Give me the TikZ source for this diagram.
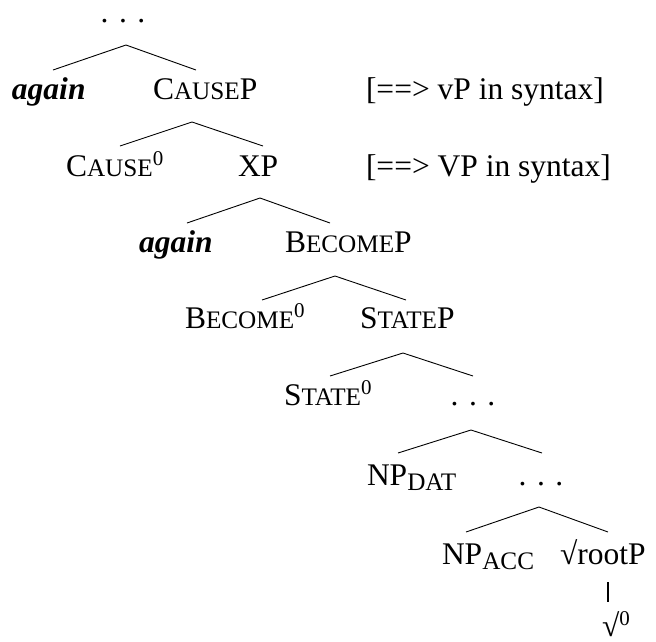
\documentclass[tikz,border=0pt]{standalone}
\usepackage{fontspec}
\setmainfont{Liberation Serif}
\newcommand\smc[1]{{\fontsize{25.2}{28}\selectfont #1}}
\newcommand\supz[1]{\raisebox{10.5pt}{\fontsize{21}{22}\selectfont #1}}
\newcommand\subz[1]{\raisebox{-5pt}{\fontsize{16.8}{18}\selectfont #1}}
\begin{document}
\begin{tikzpicture}[x=1pt,y=-1pt,
  lab/.style={inner sep=0pt,outer sep=0pt,anchor=base west,font=\fontsize{31.5}{36}\selectfont},
  labc/.style={lab,anchor=base},
  branch/.style={line width=0.9pt,line join=miter}]
\useasboundingbox (0,0) rectangle (656,641);
% nodes
\node[labc,text height=6pt,text depth=0pt] (top) at (123,22) {. . .};
\node[lab] (again1) at (12,99) {\textbf{\textit{again}}};
\node[lab] (causeP) at (153,99) {C\smc{AUSE}P};
\node[lab] (br1) at (366,99) {[==> vP in syntax]};
\node[lab] (cause0) at (66,176) {C\smc{AUSE}\supz{0}};
\node[lab] (XP) at (238,176) {XP};
\node[lab] (br2) at (366,176) {[==> VP in syntax]};
\node[lab] (again2) at (139,252) {\textbf{\textit{again}}};
\node[lab] (becomeP) at (285,252) {B\smc{ECOME}P};
\node[lab] (become0) at (185,328) {B\smc{ECOME}\supz{0}};
\node[lab] (stateP) at (360,328) {S\smc{TATE}P};
\node[lab] (state0) at (284,405) {S\smc{TATE}\supz{0}};
\node[labc] (dotsA) at (473,405) {. . .};
\node[lab] (npdat) at (367,485) {NP\subz{\smc{DAT}}};
\node[labc] (dotsB) at (541,485) {. . .};
\node[lab] (npacc) at (442,564) {NP\subz{\smc{ACC}}};
\node[lab] (rootP) at (560,564) {√rootP};
\node[lab,text height=24pt,text depth=0pt] (root0) at (602,636) {√\supz{0}};
% branch coordinates
\coordinate (a1) at (126,45);  \coordinate (l1) at (53,70);   \coordinate (r1) at (196,70);
\coordinate (a2) at (192,122); \coordinate (l2) at (120,146); \coordinate (r2) at (263,146);
\coordinate (a3) at (260,198); \coordinate (l3) at (187,223); \coordinate (r3) at (330,223);
\coordinate (a4) at (335,276); \coordinate (l4) at (262,300); \coordinate (r4) at (406,300);
\coordinate (a5) at (403,353); \coordinate (l5) at (330,376); \coordinate (r5) at (473,376);
\coordinate (a6) at (471,430); \coordinate (l6) at (398,453); \coordinate (r6) at (542,453);
\coordinate (a7) at (539,507); \coordinate (l7) at (466,532); \coordinate (r7) at (608,532);
\coordinate (v1) at (608,582); \coordinate (v2) at (608,602);
\draw[branch] (l1) -- (a1) -- (r1);
\draw[branch] (l2) -- (a2) -- (r2);
\draw[branch] (l3) -- (a3) -- (r3);
\draw[branch] (l4) -- (a4) -- (r4);
\draw[branch] (l5) -- (a5) -- (r5);
\draw[branch] (l6) -- (a6) -- (r6);
\draw[branch] (l7) -- (a7) -- (r7);
\draw[line width=1.6pt] (v1) -- (v2);
\end{tikzpicture}
\end{document}
